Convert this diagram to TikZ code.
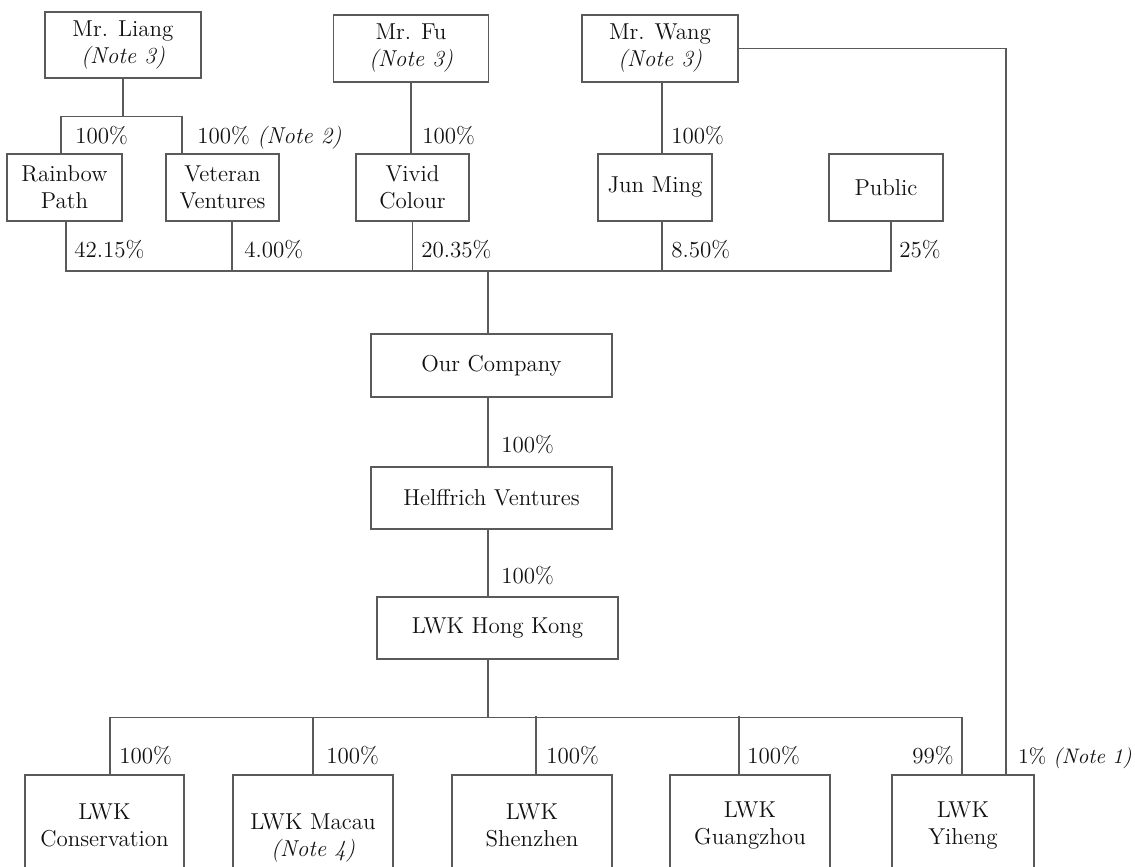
\documentclass[tikz,border=0pt]{standalone}
\usepackage{tikz}
\usetikzlibrary{calc}
\definecolor{inkline}{HTML}{5A5A5A}
\definecolor{inktext}{HTML}{111111}
\tikzset{
  firm/.style={draw=inkline, line width=0.6pt, fill=white, align=center, inner sep=0pt,
    text=inktext, font=\fontsize{11.5}{13.5}\selectfont},
  link/.style={draw=inkline, line width=0.6pt},
  pct/.style={text=inktext, inner sep=0pt, anchor=base west, font=\fontsize{11.5}{13.5}\selectfont}
}
\begin{document}
\begin{tikzpicture}[x=0.5pt, y=-0.5pt]
  \useasboundingbox (0,0) rectangle (1135,867);
  \clip (0,0) rectangle (1135,867);
  % owners
  \node[firm, minimum width=78pt, minimum height=33pt] (liang) at (123,45) {Mr. Liang\\\textit{(Note 3)}};
  \node[firm, minimum width=77.5pt, minimum height=33.5pt] (fu) at (411,48.5) {Mr. Fu\\\textit{(Note 3)}};
  \node[firm, minimum width=78pt, minimum height=33.5pt] (wang) at (660,48.5) {Mr. Wang\\\textit{(Note 3)}};
  % holding vehicles
  \node[firm, minimum width=57.5pt, minimum height=33.5pt] (rainbow) at (64.5,187.5) {Rainbow\\Path};
  \node[firm, minimum width=56.5pt, minimum height=33.5pt] (veteran) at (222.5,187.5) {Veteran\\Ventures};
  \node[firm, minimum width=56.5pt, minimum height=33.5pt] (vivid) at (412.5,187.5) {Vivid\\Colour};
  \node[firm, minimum width=57pt, minimum height=33.5pt] (junming) at (655,187.5) {Jun Ming};
  \node[firm, minimum width=57pt, minimum height=33.5pt] (public) at (886,187.5) {Public};
  % group
  \node[firm, minimum width=120.5pt, minimum height=31.5pt] (ourco) at (491.5,365.5) {Our Company};
  \node[firm, minimum width=120.5pt, minimum height=31pt] (helf) at (491.5,498) {Helffrich Ventures};
  \node[firm, minimum width=120.5pt, minimum height=31pt] (lwkhk) at (497.5,628) {LWK Hong Kong};
  % subsidiaries
  \node[firm, minimum width=79.5pt, minimum height=50pt] (cons) at (104.5,825) {LWK\\Conservation};
  \node[firm, minimum width=80pt, minimum height=63pt] (macau) at (313,838) {LWK Macau\\\textit{(Note 4)}};
  \node[firm, minimum width=80pt, minimum height=50pt] (shenzhen) at (532,825) {LWK\\Shenzhen};
  \node[firm, minimum width=80pt, minimum height=50pt] (guangzhou) at (750,825) {LWK\\Guangzhou};
  \node[firm, minimum width=71pt, minimum height=50pt] (yiheng) at (963,825) {LWK\\Yiheng};

  % owners to vehicles
  \draw[link] (liang.south) -- ++(0,38) coordinate (lbar);
  \draw[link] ($(rainbow.north)+(-3.5,0)$) |- (lbar) -| ($(veteran.north)+(-40.5,0)$);
  \draw[link] (fu.south) -- (fu.south |- vivid.north);
  \draw[link] ($(wang.south)+(2,0)$) -- ($(wang.south |- junming.north)+(2,0)$);
  % vehicles to our company
  \coordinate (hub) at (488,271);
  \draw[link] ($(rainbow.south)+(1.5,0)$) |- (hub) -| ($(public.south)+(5,0)$);
  \draw[link] ($(veteran.south)+(9.5,0)$) -- ++(0,50);
  \draw[link] (vivid.south) -- (vivid.south |- hub);
  \draw[link] ($(junming.south)+(7,0)$) -- ++(0,50);
  \draw[link] (hub) -- (hub |- ourco.north);
  \draw[link] (hub |- ourco.south) -- (hub |- helf.north);
  \draw[link] (hub |- helf.south) -- (hub |- lwkhk.north);
  \draw[link] (hub |- lwkhk.south) -- ++(0,58) coordinate (hub2);
  % subsidiaries
  \draw[link] ($(cons.north)+(5.5,0)$) |- (hub2) -| ($(yiheng.north)+(-1,0)$);
  \draw[link] (macau.north) -- (macau.north |- hub2);
  \draw[link] ($(shenzhen.north)+(4,0)$) -- ++(0,-58);
  \draw[link] ($(guangzhou.north)+(-11,0)$) -- ++(0,-58);
  \draw[link] (wang.east) -| ($(yiheng.north)+(43,0)$);

  % shareholdings
  \node[pct] (p1) at (75,143) {100\%};
  \node[pct] (p2) at (197,143) {100\% \textit{(Note 2)}};
  \node[pct] (p3) at (422,143) {100\%};
  \node[pct] (p4) at (671,143) {100\%};
  \node[pct] (p5) at (74,257) {42.15\%};
  \node[pct] (p6) at (244,257) {4.00\%};
  \node[pct] (p7) at (421,257) {20.35\%};
  \node[pct] (p8) at (671,257) {8.50\%};
  \node[pct] (p9) at (899,257) {25\%};
  \node[pct] (p10) at (501,452) {100\%};
  \node[pct] (p11) at (501,583) {100\%};
  \node[pct] (p12) at (119,763) {100\%};
  \node[pct] (p13) at (326,763) {100\%};
  \node[pct] (p14) at (546,763) {100\%};
  \node[pct] (p15) at (747,763) {100\%};
  \node[pct, anchor=base east] (p16) at (954,763) {99\%};
  \node[pct, font=\fontsize{10.5}{12}\selectfont] (p17) at (1018,763) {1\% \textit{(Note 1)}};
\end{tikzpicture}
\end{document}
